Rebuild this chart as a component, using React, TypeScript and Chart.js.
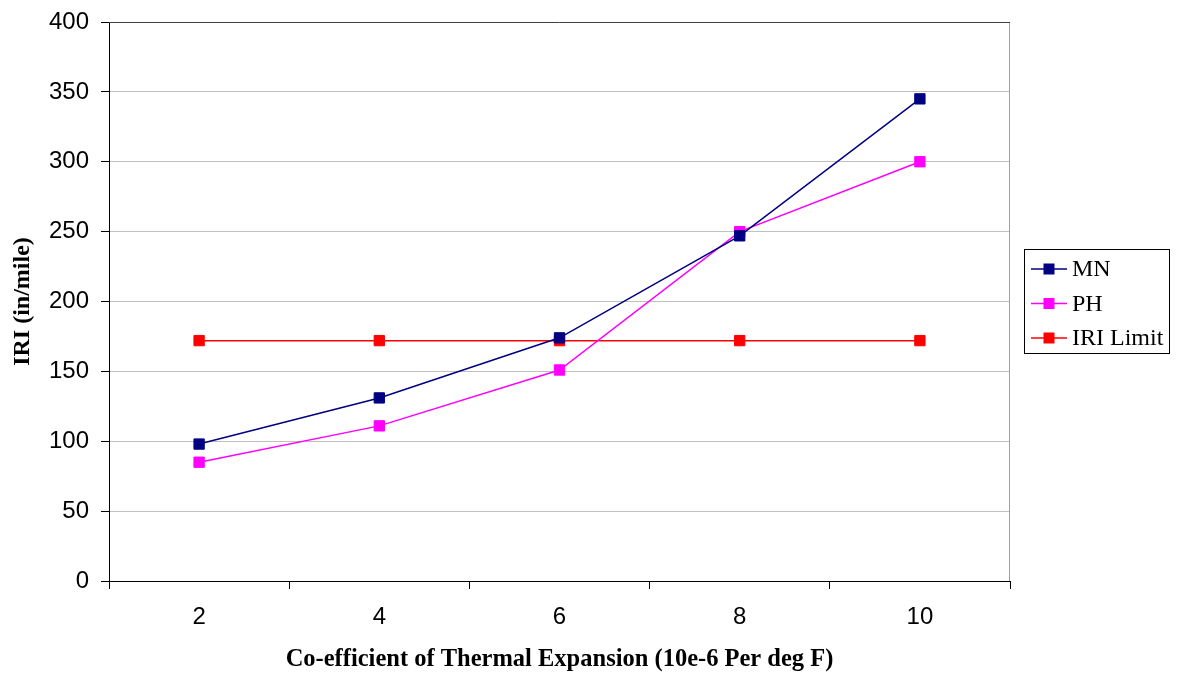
import React, { useEffect, useRef } from "react";
import { Chart, registerables } from "chart.js";

Chart.register(...registerables);

const categories = ["2", "4", "6", "8", "10"];
const mnValues = [98, 131, 174, 247, 345];
const phValues = [85, 111, 151, 250, 300];
const iriLimitValues = [172, 172, 172, 172, 172];
const seriesNames = ["MN", "PH", "IRI Limit"];
const seriesColors = ["#000080", "#ff00ff", "#ff0000"];
const xTitle = "Co-efficient of Thermal Expansion (10e-6 Per deg F)";
const yTitle = "IRI (in/mile)";

const plotBorderPlugin = {
  id: "plotBorder",
  beforeDatasetsDraw(chart: any) {
    const { ctx, chartArea } = chart;
    ctx.save();
    ctx.lineWidth = 1;
    ctx.strokeStyle = "#a0a0a0";
    ctx.beginPath();
    ctx.moveTo(Math.round(chartArea.right) - 0.5, chartArea.top);
    ctx.lineTo(Math.round(chartArea.right) - 0.5, chartArea.bottom);
    ctx.stroke();
    ctx.strokeStyle = "#404040";
    ctx.beginPath();
    ctx.moveTo(chartArea.left, Math.round(chartArea.top) + 0.5);
    ctx.lineTo(chartArea.right, Math.round(chartArea.top) + 0.5);
    ctx.stroke();
    ctx.restore();
  },
};

const customLegendPlugin = {
  id: "customLegend",
  afterDraw(chart: any) {
    const { ctx } = chart;
    const boxX = 1024.5;
    const boxY = 249.5;
    const boxW = 145;
    const boxH = 104;
    ctx.save();
    ctx.fillStyle = "#ffffff";
    ctx.fillRect(boxX, boxY, boxW, boxH);
    ctx.strokeStyle = "#000000";
    ctx.lineWidth = 1;
    ctx.strokeRect(boxX, boxY, boxW, boxH);
    const rowY = [269, 303.5, 338];
    chart.data.datasets.forEach((ds: any, i: number) => {
      const y = rowY[i];
      ctx.strokeStyle = ds.borderColor;
      ctx.lineWidth = 1.5;
      ctx.beginPath();
      ctx.moveTo(1031, y);
      ctx.lineTo(1067, y);
      ctx.stroke();
      ctx.fillStyle = ds.borderColor;
      ctx.fillRect(1043.5, y - 5.5, 11, 11);
      ctx.fillStyle = "#000000";
      ctx.font = '24px "Liberation Serif"';
      ctx.textBaseline = "middle";
      ctx.textAlign = "left";
      ctx.fillText(ds.label, 1072, y + 1);
    });
    ctx.restore();
  },
};

export default function App() {
  const canvasRef = useRef<HTMLCanvasElement | null>(null);

  useEffect(() => {
    if (!canvasRef.current) return;
    const valueSets = [mnValues, phValues, iriLimitValues];
    const chart = new Chart(canvasRef.current, {
      type: "line",
      data: {
        labels: categories,
        datasets: valueSets.map((vals, i) => ({
          label: seriesNames[i],
          data: vals,
          borderColor: seriesColors[i],
          backgroundColor: seriesColors[i],
          borderWidth: 1.5,
          pointStyle: "rect",
          pointRadius: 7.3,
          pointBorderWidth: 1,
          pointBackgroundColor: seriesColors[i],
          pointBorderColor: seriesColors[i],
          tension: 0,
          fill: false,
        })),
      },
      options: {
        responsive: false,
        animation: false,
        events: [],
        layout: { padding: { top: 22, right: 168, left: 0, bottom: 0 } },
        plugins: {
          legend: { display: false },
          tooltip: { enabled: false },
        },
        scales: {
          x: {
            type: "category",
            offset: true,
            afterFit(scale: any) {
              scale.height = 93;
            },
            grid: {
              offset: true,
              drawOnChartArea: false,
              drawTicks: true,
              tickLength: 8,
              color: "#000000",
              tickColor: "#000000",
            },
            border: { display: true, color: "#000000", width: 1 },
            ticks: {
              color: "#000000",
              padding: 14,
              maxRotation: 0,
              font: { family: '"Liberation Sans", Arial, sans-serif', size: 24 },
            },
            title: {
              display: true,
              text: xTitle,
              color: "#000000",
              padding: { top: 0, bottom: 0 },
              font: { family: '"Liberation Serif", serif', size: 24.5, weight: "bold" },
            },
          },
          y: {
            min: 0,
            max: 400,
            afterFit(scale: any) {
              scale.width = 109;
              scale.paddingTop = 0;
              scale.paddingBottom = 0;
            },
            ticks: {
              stepSize: 50,
              color: "#000000",
              padding: 12,
              font: { family: '"Liberation Sans", Arial, sans-serif', size: 24 },
            },
            grid: {
              color: "#c0c0c0",
              lineWidth: 1,
              tickLength: 8,
              tickColor: "#000000",
            },
            border: { display: true, color: "#000000", width: 1 },
            title: {
              display: true,
              text: yTitle,
              color: "#000000",
              padding: { top: 8, bottom: 0 },
              font: { family: '"Liberation Serif", serif', size: 24, weight: "bold" },
            },
          },
        },
      },
      plugins: [plotBorderPlugin, customLegendPlugin],
    });
    return () => chart.destroy();
  }, []);

  return (
    <div style={{ position: "absolute", left: 0, top: 0, width: 1178, height: 674, background: "#ffffff" }}>
      <canvas ref={canvasRef} width={1178} height={674} />
    </div>
  );
}
